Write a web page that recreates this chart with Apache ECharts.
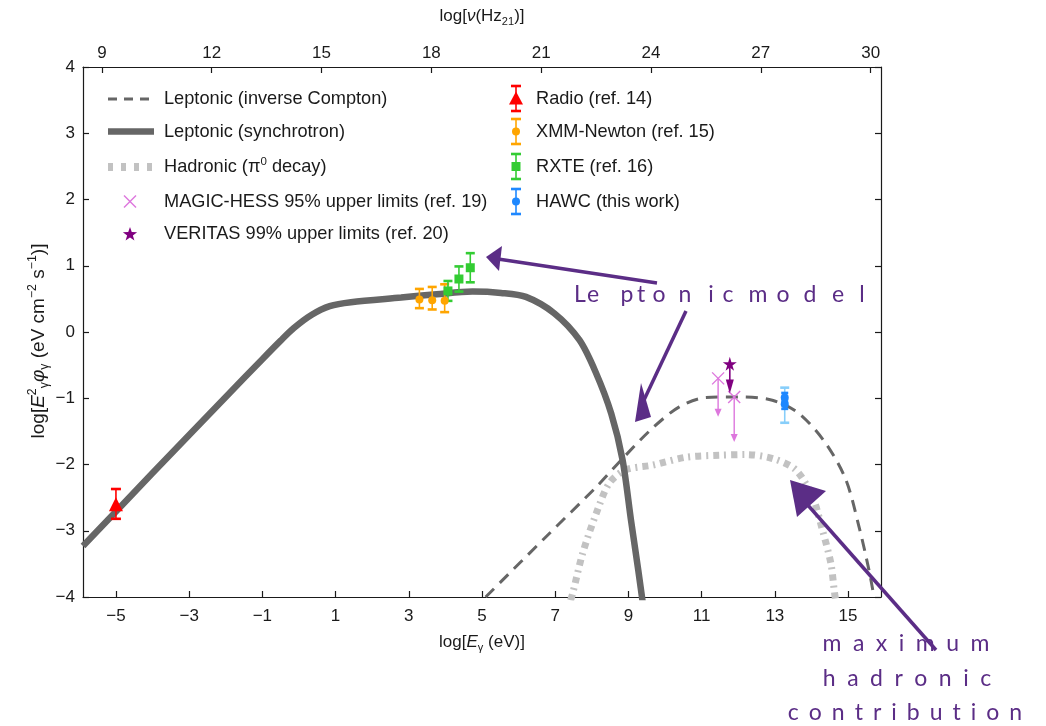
<!DOCTYPE html>
<html><head><meta charset="utf-8">
<script src="https://cdn.jsdelivr.net/npm/echarts@6/dist/echarts.min.js"></script>
<style>html,body{margin:0;padding:0;background:#fff}#c{width:1046px;height:726px}</style>
</head><body><div id="c"></div>
<script>
// ---------- data ----------
const xTicks = [-5, -3, -1, 1, 3, 5, 7, 9, 11, 13, 15];
const nuTicks = [9, 12, 15, 18, 21, 24, 27, 30];
const NU_OFFSET = 14.383;           // log10(Hz per eV)
const X_MIN = -5.9, X_MAX = 15.9, Y_MIN = -4, Y_MAX = 4;

const synchrotron = [[-5.9,-3.23],[-4,-2.13],[-2,-0.98],[-1,-0.41],[-0.5,-0.13],[-0.14,0.06],[0.35,0.26],[0.84,0.39],[1.42,0.45],[2.79,0.52],[3.76,0.57],[4.74,0.61],[5.52,0.59],[6.2,0.53],[6.98,0.28],[7.66,-0.12],[8.1,-0.6],[8.53,-1.23],[8.84,-1.93],[9.07,-2.84],[9.27,-3.6],[9.42,-4.2]];
const inverseCompton = [[5.1,-4.0],[6.75,-3.09],[8.12,-2.34],[8.84,-1.91],[9.66,-1.45],[10.39,-1.13],[11.12,-0.99],[12.03,-0.98],[12.93,-1.03],[13.66,-1.23],[14.39,-1.68],[14.94,-2.23],[15.3,-2.94],[15.57,-3.59],[15.71,-4.0]];
const hadronic = [[7.42,-4.05],[7.48,-3.94],[7.75,-3.34],[8.12,-2.74],[8.48,-2.28],[8.93,-2.08],[9.66,-2.01],[10.57,-1.89],[11.48,-1.86],[12.21,-1.85],[12.94,-1.91],[13.57,-2.08],[14.03,-2.49],[14.3,-2.99],[14.53,-3.49],[14.62,-3.89],[14.66,-4.05]];

// [E, y, lower, upper]
const radio = [[-5, -2.6, -2.82, -2.37]];
const xmm = [[3.29,0.49,0.36,0.65],[3.64,0.48,0.34,0.68],[3.98,0.47,0.30,0.72]];
const rxte = [[4.07,0.62,0.47,0.77],[4.37,0.80,0.61,0.99],[4.68,0.97,0.75,1.19]];
const hawc = [[13.27,-0.99,-1.06,-0.92],[13.27,-1.09,-1.16,-1.02]];
const hawcSys = [[13.27,-1.04,-1.37,-0.84]];
// [E, y, arrow end]
const magicUL = [[11.45,-0.70,-1.28],[11.89,-0.98,-1.66]];
const veritasUL = [[11.77,-0.48,-0.93]];

// ---------- style ----------
const FONT = 'Liberation Sans, Arial, sans-serif';
const INK = '#1a1a1a';
const C_RADIO = '#ff0000', C_XMM = '#ffa500', C_RXTE = '#33cc33', C_HAWC = '#1e88ff', C_HAWC2 = '#87cefa';
const C_MAGIC = '#dd77dd', C_VER = '#800080', C_LINE = '#666666', C_HAD = '#c2c2c2', C_ANN = '#5b2d86';
const STAR = 'path://M50,0 L61,35 L98,35 L68,57 L79,91 L50,70 L21,91 L32,57 L2,35 L39,35 Z';
const minus = v => String(v).replace('-', '\u2212');

function errRender(color, capW, lw) {
  return function (params, api) {
    const x = api.value(0), lo = api.value(2), hi = api.value(3);
    const a = api.coord([x, lo]), b = api.coord([x, hi]);
    return { type: 'group', children: [
      { type: 'line', shape: { x1: a[0], y1: a[1], x2: b[0], y2: b[1] }, style: { stroke: color, lineWidth: lw } },
      { type: 'line', shape: { x1: a[0]-capW/2, y1: a[1], x2: a[0]+capW/2, y2: a[1] }, style: { stroke: color, lineWidth: lw+1 } },
      { type: 'line', shape: { x1: b[0]-capW/2, y1: b[1], x2: b[0]+capW/2, y2: b[1] }, style: { stroke: color, lineWidth: lw+1 } }
    ]};
  };
}
function ulRender(color, headW, headL, lw, cross) {
  return function (params, api) {
    const x = api.value(0), y = api.value(1), y2 = api.value(2);
    const p = api.coord([x, y]), q = api.coord([x, y2]);
    const ch = [
      { type: 'line', shape: { x1: p[0], y1: p[1], x2: q[0], y2: q[1]-headL+1 }, style: { stroke: color, lineWidth: lw } },
      { type: 'polygon', shape: { points: [[q[0]-headW/2, q[1]-headL], [q[0]+headW/2, q[1]-headL], [q[0], q[1]]] }, style: { fill: color } }
    ];
    if (cross) {
      const h = 6;
      ch.push({ type: 'line', shape: { x1: p[0]-h, y1: p[1]-h, x2: p[0]+h, y2: p[1]+h }, style: { stroke: color, lineWidth: 1.4 } });
      ch.push({ type: 'line', shape: { x1: p[0]-h, y1: p[1]+h, x2: p[0]+h, y2: p[1]-h }, style: { stroke: color, lineWidth: 1.4 } });
    }
    return { type: 'group', children: ch };
  };
}
const errSeries = (data, color, capW, lw) => ({ type: 'custom', data, renderItem: errRender(color, capW, lw), encode: { x: 0, y: [1, 2, 3] }, z: 3, silent: true });
const ptSeries = (data, color, symbol, size) => ({ type: 'scatter', data: data.map(d => [d[0], d[1]]), symbol, symbolSize: size, itemStyle: { color, opacity: 1 }, z: 4, silent: true });

const mkRich = fs => ({
  t: { fontSize: fs, fontFamily: FONT, color: INK, fill: INK, lineHeight: fs + 5 },
  i: { fontSize: fs, fontFamily: FONT, color: INK, fill: INK, fontStyle: 'italic', lineHeight: fs + 5 },
  u: { fontSize: fs * 0.65, fontFamily: FONT, color: INK, fill: INK, verticalAlign: 'top', lineHeight: fs * 0.65 },
  s: { fontSize: fs * 0.65, fontFamily: FONT, color: INK, fill: INK, verticalAlign: 'bottom', lineHeight: fs * 0.65 }
});

// ---------- legend & annotations (graphic) ----------
const g = [];
const LFS = 18.2;
const L_ROWS = [99, 131.5, 167, 201.5, 234];
const lText = (x, y, text, rich) => ({ type: 'text', x, y, style: { text, fill: INK, font: LFS + 'px ' + FONT, textVerticalAlign: 'middle', verticalAlign: 'middle', rich } });
function starPts(cx, cy, R) {
  const pts = [];
  for (let k = 0; k < 10; k++) {
    const r = k % 2 ? R * 0.4 : R, a = -Math.PI / 2 + k * Math.PI / 5;
    pts.push([cx + r * Math.cos(a), cy + r * Math.sin(a)]);
  }
  return pts;
}
// y-axis title (rotated)
g.push({ type: 'text', x: 39, y: 341, rotation: Math.PI / 2, style: {
  text: '{t|log[}{i|E}{u|2}{s|\u03b3}{i|\u03c6}{s|\u03b3}{t| (eV cm}{u|\u22122}{t| s}{u|\u22121}{t|)]}',
  rich: mkRich(19), fill: INK, textAlign: 'center', align: 'center', textVerticalAlign: 'middle', verticalAlign: 'middle' } });

g.push({ type: 'line', shape: { x1: 108, y1: L_ROWS[0], x2: 154, y2: L_ROWS[0] }, style: { stroke: C_LINE, lineWidth: 3, lineDash: [9, 7] } });
g.push({ type: 'line', shape: { x1: 108, y1: L_ROWS[1], x2: 154, y2: L_ROWS[1] }, style: { stroke: C_LINE, lineWidth: 6.5 } });
g.push({ type: 'line', shape: { x1: 108, y1: L_ROWS[2], x2: 154, y2: L_ROWS[2] }, style: { stroke: C_HAD, lineWidth: 8, lineDash: [5, 8] } });
g.push({ type: 'line', shape: { x1: 124, y1: L_ROWS[3]-6, x2: 136, y2: L_ROWS[3]+6 }, style: { stroke: C_MAGIC, lineWidth: 1.4 } });
g.push({ type: 'line', shape: { x1: 124, y1: L_ROWS[3]+6, x2: 136, y2: L_ROWS[3]-6 }, style: { stroke: C_MAGIC, lineWidth: 1.4 } });
g.push({ type: 'polygon', shape: { points: starPts(130, L_ROWS[4]+0.5, 7.5) }, style: { fill: C_VER } });
g.push(lText(164, L_ROWS[0], 'Leptonic (inverse Compton)'));
g.push(lText(164, L_ROWS[1], 'Leptonic (synchrotron)'));
g.push(lText(164, L_ROWS[2], '{a|Hadronic (\u03c0}{b|0}{a| decay)}', {
  a: { fontSize: LFS, fontFamily: FONT, fill: INK, color: INK, lineHeight: 22 },
  b: { fontSize: 11.5, fontFamily: FONT, fill: INK, color: INK, verticalAlign: 'top', lineHeight: 12 } }));
g.push(lText(164, L_ROWS[3], 'MAGIC-HESS 95% upper limits (ref. 19)'));
g.push(lText(164, L_ROWS[4], 'VERITAS 99% upper limits (ref. 20)'));

const R_ROWS = [98.5, 131.5, 166.5, 201.5], RX = 516;
function legErr(y, color) {
  g.push({ type: 'line', shape: { x1: RX, y1: y-12.5, x2: RX, y2: y+12.5 }, style: { stroke: color, lineWidth: 1.6 } });
  g.push({ type: 'line', shape: { x1: RX-5, y1: y-12.5, x2: RX+5, y2: y-12.5 }, style: { stroke: color, lineWidth: 2.6 } });
  g.push({ type: 'line', shape: { x1: RX-5, y1: y+12.5, x2: RX+5, y2: y+12.5 }, style: { stroke: color, lineWidth: 2.6 } });
}
legErr(R_ROWS[0], C_RADIO); g.push({ type: 'polygon', shape: { points: [[RX, R_ROWS[0]-7], [RX-7, R_ROWS[0]+6], [RX+7, R_ROWS[0]+6]] }, style: { fill: C_RADIO } });
legErr(R_ROWS[1], C_XMM); g.push({ type: 'circle', shape: { cx: RX, cy: R_ROWS[1], r: 4 }, style: { fill: C_XMM } });
legErr(R_ROWS[2], C_RXTE); g.push({ type: 'rect', shape: { x: RX-4.5, y: R_ROWS[2]-4.5, width: 9, height: 9 }, style: { fill: C_RXTE } });
legErr(R_ROWS[3], C_HAWC); g.push({ type: 'circle', shape: { cx: RX, cy: R_ROWS[3], r: 4 }, style: { fill: C_HAWC } });
g.push(lText(536, R_ROWS[0], 'Radio (ref. 14)'));
g.push(lText(536, R_ROWS[1], 'XMM-Newton (ref. 15)'));
g.push(lText(536, R_ROWS[2], 'RXTE (ref. 16)'));
g.push(lText(536, R_ROWS[3], 'HAWC (this work)'));

// annotation text (slide overlay)
const mctx = document.createElement('canvas').getContext('2d');
function spaced(str, cx, cy, size, gap) {
  mctx.font = size + 'px Lato';
  const chars = [...str], ws = chars.map(c => mctx.measureText(c).width);
  const total = ws.reduce((a, b) => a + b, 0) + gap * (chars.length - 1);
  let x = cx - total / 2;
  chars.forEach((c, i) => {
    g.push({ type: 'text', x, y: cy, z: 100, style: { text: c, font: size + 'px Lato', fill: C_ANN, textVerticalAlign: 'middle', verticalAlign: 'middle' } });
    x += ws[i] + gap;
  });
}
const lepChars = ['L','e','p','t','o','n','i','c','m','o','d','e','l'];
const lepX = [580, 593, 627, 641, 659, 685, 711, 728, 758, 783, 810, 838, 862];
lepChars.forEach((c, i) => g.push({ type: 'text', x: lepX[i], y: 295, z: 100, style: { text: c, font: '23px Lato', fill: C_ANN, textAlign: 'center', align: 'center', textVerticalAlign: 'middle', verticalAlign: 'middle' } }));
spaced('maximum', 906, 644, 23, 11.5);
spaced('hadronic', 907, 679, 23, 11.5);
spaced('contribution', 905, 713, 23, 10);

// hand-drawn arrows
const arrow = (pts, head) => {
  g.push({ type: 'polyline', z: 100, shape: { points: pts }, style: { stroke: C_ANN, lineWidth: 3.5, fill: null } });
  g.push({ type: 'polygon', z: 100, shape: { points: head }, style: { fill: C_ANN } });
};
arrow([[657, 283], [498, 259]], [[486, 257], [502, 246], [499, 271]]);
arrow([[686, 311], [644, 400]], [[641, 383], [635, 422], [651, 417]]);
arrow([[936, 650], [806, 503]], [[790, 480], [826, 491], [797, 517]]);

// ---------- chart ----------
const axisCommon = {
  axisLine: { show: true, onZero: false, lineStyle: { color: INK, width: 1.2 } },
  axisTick: { show: true, inside: true, length: 6, lineStyle: { color: INK, width: 1.2 } },
  splitLine: { show: false },
  axisLabel: { color: INK, fontFamily: FONT, fontSize: 17 }
};

const chart = echarts.init(document.getElementById('c'), null, { renderer: 'canvas' });
chart.setOption({
  backgroundColor: '#fff',
  animation: false,
  grid: { left: 83, right: 165, top: 67, bottom: 129, containLabel: false, outerBoundsMode: 'none' },
  xAxis: [
    Object.assign({}, axisCommon, {
      type: 'value', position: 'bottom', min: X_MIN, max: X_MAX,
      axisTick: Object.assign({}, axisCommon.axisTick, { customValues: xTicks }),
      axisLabel: Object.assign({}, axisCommon.axisLabel, { customValues: xTicks, formatter: minus, margin: 11 }),
      name: '{t|log[}{i|E}{s|\u03b3}{t| (eV)]}', nameLocation: 'middle', nameGap: 34,
      nameTextStyle: { rich: mkRich(17) }
    }),
    Object.assign({}, axisCommon, {
      type: 'value', position: 'top', min: X_MIN + NU_OFFSET, max: X_MAX + NU_OFFSET,
      axisTick: Object.assign({}, axisCommon.axisTick, { customValues: nuTicks }),
      axisLabel: Object.assign({}, axisCommon.axisLabel, { customValues: nuTicks, margin: 5 }),
      name: '{t|log[}{i|\u03bd}{t|(Hz}{s|21}{t|)]}', nameLocation: 'middle', nameGap: 40,
      nameTextStyle: { rich: mkRich(17) }
    })
  ],
  yAxis: [
    Object.assign({}, axisCommon, {
      type: 'value', position: 'left', min: Y_MIN, max: Y_MAX, interval: 1,
      axisLabel: Object.assign({}, axisCommon.axisLabel, { formatter: minus, margin: 8 })
    }),
    Object.assign({}, axisCommon, {
      type: 'value', position: 'right', min: Y_MIN, max: Y_MAX, interval: 1,
      axisLabel: { show: false }
    })
  ],
  series: [
    { type: 'line', data: hadronic, smooth: 0.3, showSymbol: false, clip: true, silent: true,
      lineStyle: { color: C_HAD, width: 7, type: [6, 5, 2, 5] }, z: 1 },
    { type: 'line', data: inverseCompton, smooth: 0.3, showSymbol: false, clip: true, silent: true,
      lineStyle: { color: C_LINE, width: 3, type: [12, 8] }, z: 2 },
    { type: 'line', data: synchrotron, smooth: 0.3, showSymbol: false, clip: true, silent: true,
      lineStyle: { color: C_LINE, width: 6.5 }, z: 2 },
    errSeries(radio, C_RADIO, 10, 1.6),
    errSeries(xmm, C_XMM, 9, 1.6),
    errSeries(rxte, C_RXTE, 9, 1.6),
    errSeries(hawcSys, C_HAWC2, 9, 1.6),
    errSeries(hawc, C_HAWC, 7, 1.6),
    ptSeries(radio, C_RADIO, 'triangle', 14),
    ptSeries(xmm, C_XMM, 'circle', 8),
    ptSeries(rxte, C_RXTE, 'rect', 9),
    ptSeries(hawc, C_HAWC, 'circle', 8),
    { type: 'custom', data: magicUL, renderItem: ulRender(C_MAGIC, 7, 8, 1.4, true), encode: { x: 0, y: [1, 2] }, z: 4, silent: true },
    { type: 'custom', data: veritasUL, renderItem: ulRender(C_VER, 8, 14, 1.6, false), encode: { x: 0, y: [1, 2] }, z: 4, silent: true },
    ptSeries(veritasUL, C_VER, STAR, 14)
  ],
  graphic: { elements: g }
});
</script></body></html>
